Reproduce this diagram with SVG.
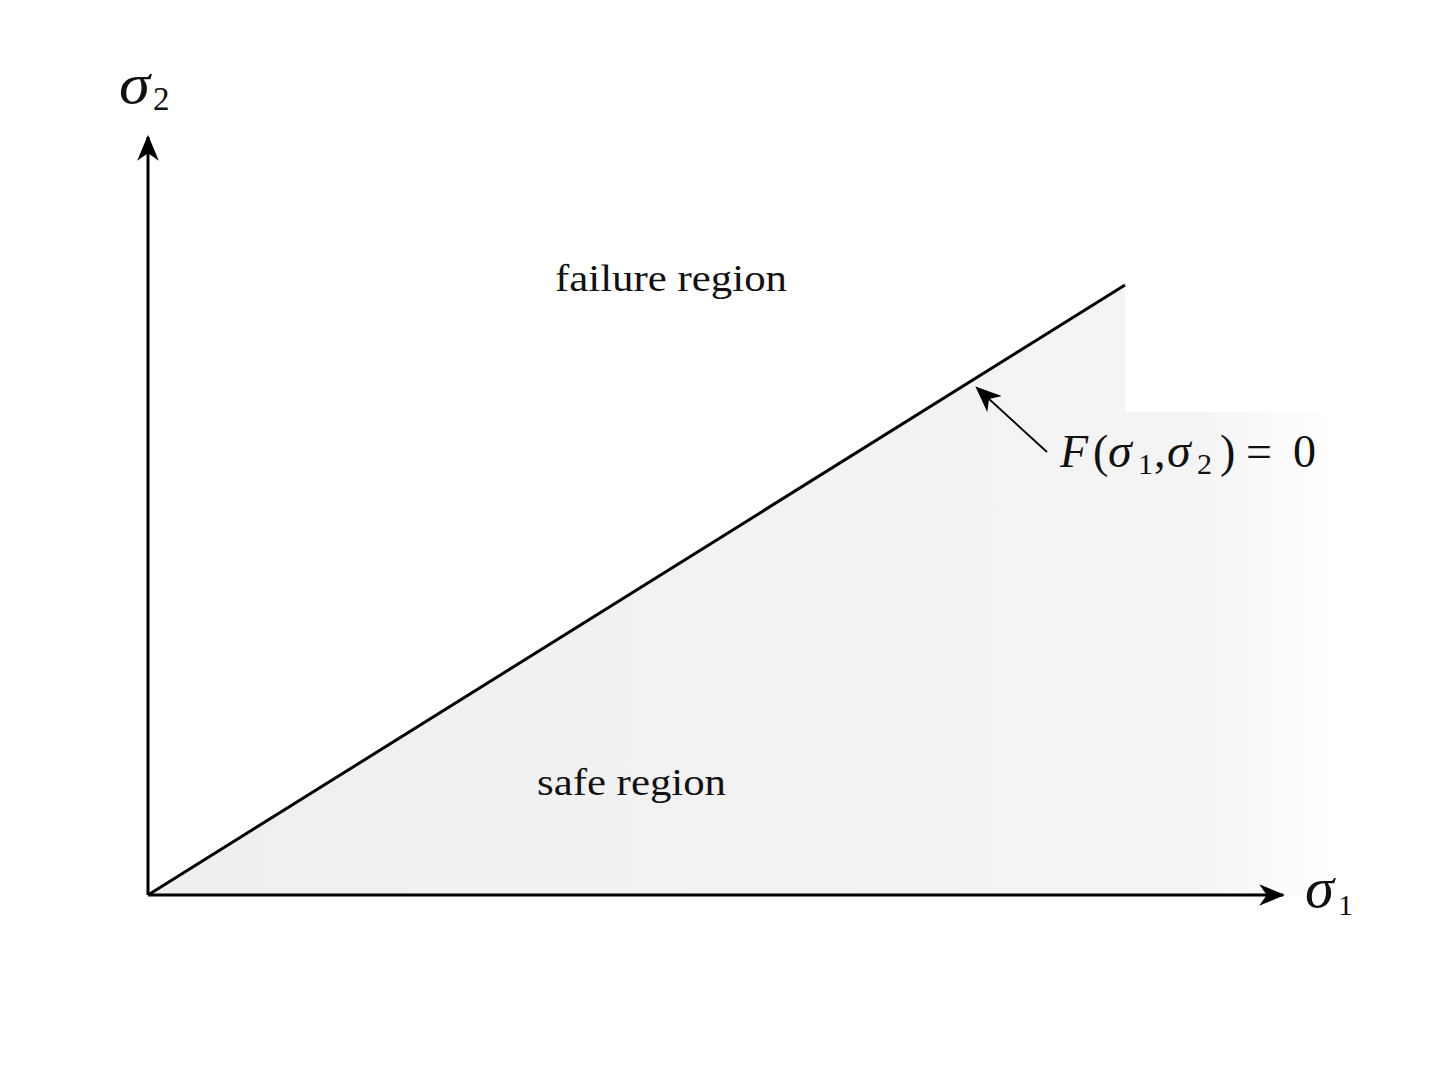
<svg xmlns="http://www.w3.org/2000/svg" width="1448" height="1086" viewBox="0 0 1448 1086">
<style>
.ax{stroke:#000;stroke-width:3;fill:none}
.lbl{font-family:"Liberation Serif","DejaVu Serif",serif;fill:#111}
.it{font-style:italic}
</style>
<defs>
<marker id="ahb" viewBox="0 0 12 10" refX="11" refY="5" markerWidth="26" markerHeight="22" markerUnits="userSpaceOnUse" orient="auto">
<path d="M0,0 L12,5 L0,10 L3.5,5 Z" fill="#000"/>
</marker>
<linearGradient id="fade" x1="148" y1="0" x2="1335" y2="0" gradientUnits="userSpaceOnUse">
<stop offset="0" stop-color="#efefef"/>
<stop offset="0.88" stop-color="#f4f4f4"/>
<stop offset="1" stop-color="#ffffff"/>
</linearGradient>
</defs>
<rect width="1448" height="1086" fill="#fff"/>
<g id="safe-area">
<polygon points="148,895 1125,285 1125,412 1335,412 1335,895" fill="url(#fade)"/>
</g>
<g id="connectors">
<line class="ax" x1="148" y1="895" x2="148" y2="137" marker-end="url(#ahb)"/>
<line class="ax" x1="148" y1="895" x2="1283" y2="895" marker-end="url(#ahb)"/>
<line class="ax" x1="148" y1="895" x2="1125" y2="285"/>
<line x1="1047" y1="452" x2="977" y2="388" stroke="#000" stroke-width="1.8" marker-end="url(#ahb)"/>
</g>
<g id="label-sigma2">
<text class="lbl it" x="119" y="103" font-size="56" textLength="31" lengthAdjust="spacingAndGlyphs">σ</text>
<text class="lbl" x="153" y="110" font-size="33">2</text>
</g>
<g id="label-sigma1">
<text class="lbl it" x="1305" y="907" font-size="56" textLength="29" lengthAdjust="spacingAndGlyphs">σ</text>
<text class="lbl" x="1338" y="915" font-size="30">1</text>
</g>
<g id="label-failure">
<text class="lbl" x="555" y="291" font-size="38" textLength="232" lengthAdjust="spacingAndGlyphs">failure region</text>
</g>
<g id="label-safe">
<text class="lbl" x="537" y="795" font-size="38" textLength="189" lengthAdjust="spacingAndGlyphs">safe region</text>
</g>
<g id="label-F">
<text class="lbl" y="467" font-size="46"><tspan class="it" x="1060">F</tspan><tspan x="1093">(</tspan><tspan class="it" x="1108" font-size="48">σ</tspan><tspan x="1138" y="474" font-size="30">1</tspan><tspan x="1154" y="467">,</tspan><tspan class="it" x="1167" font-size="48">σ</tspan><tspan x="1197" y="474" font-size="30">2</tspan><tspan x="1220" y="467">)</tspan><tspan x="1246">=</tspan><tspan x="1293">0</tspan></text>
</g>
</svg>
